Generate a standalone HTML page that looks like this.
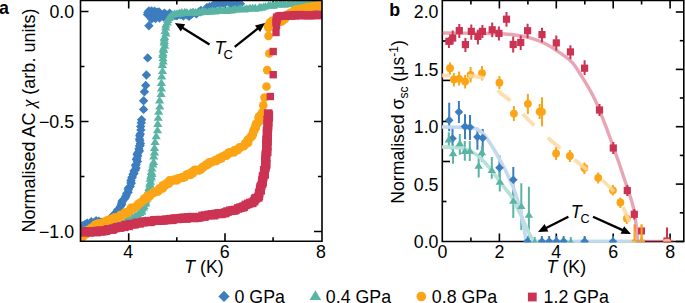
<!DOCTYPE html><html><head><meta charset="utf-8"><style>html,body{margin:0;padding:0;background:#fff;overflow:hidden}svg{display:block}</style></head><body><svg width="685" height="303" viewBox="0 0 685 303"><defs><clipPath id="ca"><rect x="80.5" y="0" width="241.5" height="241"/></clipPath><clipPath id="cb"><rect x="442" y="0" width="241.5" height="242.6"/></clipPath></defs><g stroke="#000" stroke-width="1.6" fill="none"><path d="M128.7 241.3V233.3M128.7 0.4V8.4"/><path d="M176.8 241.3V237.3M176.8 0.4V4.4"/><path d="M225.0 241.3V233.3M225.0 0.4V8.4"/><path d="M273.1 241.3V237.3M273.1 0.4V4.4"/><path d="M80.5 11.5H88.5M322 11.5H314"/><path d="M80.5 66.5H84.5M322 66.5H318"/><path d="M80.5 121.5H88.5M322 121.5H314"/><path d="M80.5 176.5H84.5M322 176.5H318"/><path d="M80.5 231.5H88.5M322 231.5H314"/></g><g clip-path="url(#ca)"><path d="M77.7 222.7L82.4 227.4L77.7 232.1L73.0 227.4Z" fill="#3c7dbf"/><path d="M80.3 221.7L85.0 226.4L80.3 231.1L75.6 226.4Z" fill="#3c7dbf"/><path d="M82.1 221.4L86.8 226.1L82.1 230.8L77.4 226.1Z" fill="#3c7dbf"/><path d="M83.2 220.8L87.9 225.5L83.2 230.2L78.5 225.5Z" fill="#3c7dbf"/><path d="M85.2 219.8L89.9 224.5L85.2 229.2L80.5 224.5Z" fill="#3c7dbf"/><path d="M87.2 218.4L91.9 223.1L87.2 227.8L82.5 223.1Z" fill="#3c7dbf"/><path d="M89.9 218.9L94.6 223.6L89.9 228.3L85.2 223.6Z" fill="#3c7dbf"/><path d="M91.3 217.1L96.0 221.8L91.3 226.5L86.6 221.8Z" fill="#3c7dbf"/><path d="M94.2 217.8L98.9 222.5L94.2 227.2L89.5 222.5Z" fill="#3c7dbf"/><path d="M96.1 216.1L100.8 220.8L96.1 225.5L91.4 220.8Z" fill="#3c7dbf"/><path d="M98.9 216.5L103.6 221.2L98.9 225.9L94.2 221.2Z" fill="#3c7dbf"/><path d="M100.6 217.9L105.3 222.6L100.6 227.3L95.9 222.6Z" fill="#3c7dbf"/><path d="M101.9 217.6L106.6 222.3L101.9 227.0L97.2 222.3Z" fill="#3c7dbf"/><path d="M104.7 218.9L109.4 223.6L104.7 228.3L100.0 223.6Z" fill="#3c7dbf"/><path d="M106.4 217.4L111.1 222.1L106.4 226.8L101.7 222.1Z" fill="#3c7dbf"/><path d="M109.3 216.1L114.0 220.8L109.3 225.5L104.6 220.8Z" fill="#3c7dbf"/><path d="M110.4 214.0L115.1 218.7L110.4 223.4L105.7 218.7Z" fill="#3c7dbf"/><path d="M110.9 212.8L115.6 217.5L110.9 222.2L106.2 217.5Z" fill="#3c7dbf"/><path d="M113.3 211.7L118.0 216.4L113.3 221.1L108.6 216.4Z" fill="#3c7dbf"/><path d="M114.0 210.3L118.7 215.0L114.0 219.7L109.3 215.0Z" fill="#3c7dbf"/><path d="M115.6 208.1L120.3 212.8L115.6 217.5L110.9 212.8Z" fill="#3c7dbf"/><path d="M117.5 207.2L122.2 211.9L117.5 216.6L112.8 211.9Z" fill="#3c7dbf"/><path d="M117.5 205.4L122.2 210.1L117.5 214.8L112.8 210.1Z" fill="#3c7dbf"/><path d="M119.0 204.5L123.7 209.2L119.0 213.9L114.3 209.2Z" fill="#3c7dbf"/><path d="M120.4 201.9L125.1 206.6L120.4 211.3L115.7 206.6Z" fill="#3c7dbf"/><path d="M121.7 199.9L126.4 204.6L121.7 209.3L117.0 204.6Z" fill="#3c7dbf"/><path d="M121.5 199.4L126.2 204.1L121.5 208.8L116.8 204.1Z" fill="#3c7dbf"/><path d="M121.9 197.3L126.6 202.0L121.9 206.7L117.2 202.0Z" fill="#3c7dbf"/><path d="M122.5 195.9L127.2 200.6L122.5 205.3L117.8 200.6Z" fill="#3c7dbf"/><path d="M124.6 194.1L129.3 198.8L124.6 203.5L119.9 198.8Z" fill="#3c7dbf"/><path d="M125.7 192.0L130.4 196.7L125.7 201.4L121.0 196.7Z" fill="#3c7dbf"/><path d="M126.2 190.6L130.9 195.3L126.2 200.0L121.5 195.3Z" fill="#3c7dbf"/><path d="M126.8 188.6L131.5 193.3L126.8 198.0L122.1 193.3Z" fill="#3c7dbf"/><path d="M128.1 187.6L132.8 192.3L128.1 197.0L123.4 192.3Z" fill="#3c7dbf"/><path d="M128.3 185.1L133.0 189.8L128.3 194.5L123.6 189.8Z" fill="#3c7dbf"/><path d="M128.4 183.2L133.1 187.9L128.4 192.6L123.7 187.9Z" fill="#3c7dbf"/><path d="M130.3 181.7L135.0 186.4L130.3 191.1L125.6 186.4Z" fill="#3c7dbf"/><path d="M131.2 178.7L135.9 183.4L131.2 188.1L126.5 183.4Z" fill="#3c7dbf"/><path d="M131.0 177.6L135.7 182.3L131.0 187.0L126.3 182.3Z" fill="#3c7dbf"/><path d="M131.0 175.5L135.7 180.2L131.0 184.9L126.3 180.2Z" fill="#3c7dbf"/><path d="M131.9 173.1L136.6 177.8L131.9 182.5L127.2 177.8Z" fill="#3c7dbf"/><path d="M132.3 172.4L137.0 177.1L132.3 181.8L127.6 177.1Z" fill="#3c7dbf"/><path d="M133.0 169.6L137.7 174.3L133.0 179.0L128.3 174.3Z" fill="#3c7dbf"/><path d="M134.0 168.8L138.7 173.5L134.0 178.2L129.3 173.5Z" fill="#3c7dbf"/><path d="M134.0 166.2L138.7 170.9L134.0 175.6L129.3 170.9Z" fill="#3c7dbf"/><path d="M135.3 165.2L140.0 169.9L135.3 174.6L130.6 169.9Z" fill="#3c7dbf"/><path d="M136.1 163.4L140.8 168.1L136.1 172.8L131.4 168.1Z" fill="#3c7dbf"/><path d="M135.5 160.7L140.2 165.4L135.5 170.1L130.8 165.4Z" fill="#3c7dbf"/><path d="M136.1 159.8L140.8 164.5L136.1 169.2L131.4 164.5Z" fill="#3c7dbf"/><path d="M137.5 156.7L142.2 161.4L137.5 166.1L132.8 161.4Z" fill="#3c7dbf"/><path d="M136.4 154.9L141.1 159.6L136.4 164.3L131.7 159.6Z" fill="#3c7dbf"/><path d="M136.9 153.5L141.6 158.2L136.9 162.9L132.2 158.2Z" fill="#3c7dbf"/><path d="M137.8 151.2L142.5 155.9L137.8 160.6L133.1 155.9Z" fill="#3c7dbf"/><path d="M137.1 149.6L141.8 154.3L137.1 159.0L132.4 154.3Z" fill="#3c7dbf"/><path d="M138.1 147.9L142.8 152.6L138.1 157.3L133.4 152.6Z" fill="#3c7dbf"/><path d="M139.4 146.2L144.1 150.9L139.4 155.6L134.7 150.9Z" fill="#3c7dbf"/><path d="M138.9 144.2L143.6 148.9L138.9 153.6L134.2 148.9Z" fill="#3c7dbf"/><path d="M139.5 141.3L144.2 146.0L139.5 150.7L134.8 146.0Z" fill="#3c7dbf"/><path d="M140.1 140.7L144.8 145.4L140.1 150.1L135.4 145.4Z" fill="#3c7dbf"/><path d="M140.4 138.8L145.1 143.5L140.4 148.2L135.7 143.5Z" fill="#3c7dbf"/><path d="M139.8 136.0L144.5 140.7L139.8 145.4L135.1 140.7Z" fill="#3c7dbf"/><path d="M139.5 134.3L144.2 139.0L139.5 143.7L134.8 139.0Z" fill="#3c7dbf"/><path d="M139.7 131.1L144.4 135.8L139.7 140.5L135.0 135.8Z" fill="#3c7dbf"/><path d="M140.3 129.2L145.0 133.9L140.3 138.6L135.6 133.9Z" fill="#3c7dbf"/><path d="M140.9 125.2L145.6 129.9L140.9 134.6L136.2 129.9Z" fill="#3c7dbf"/><path d="M140.7 121.7L145.4 126.4L140.7 131.1L136.0 126.4Z" fill="#3c7dbf"/><path d="M141.3 118.1L146.0 122.8L141.3 127.5L136.6 122.8Z" fill="#3c7dbf"/><path d="M141.6 115.0L146.3 119.7L141.6 124.4L136.9 119.7Z" fill="#3c7dbf"/><path d="M143.6 104.7L148.3 109.4L143.6 114.1L138.9 109.4Z" fill="#3c7dbf"/><path d="M143.6 96.0L148.3 100.7L143.6 105.4L138.9 100.7Z" fill="#3c7dbf"/><path d="M144.4 87.1L149.1 91.8L144.4 96.5L139.7 91.8Z" fill="#3c7dbf"/><path d="M145.7 80.7L150.4 85.4L145.7 90.1L141.0 85.4Z" fill="#3c7dbf"/><path d="M146.4 70.3L151.1 75.0L146.4 79.7L141.7 75.0Z" fill="#3c7dbf"/><path d="M147.7 53.2L152.4 57.9L147.7 62.6L143.0 57.9Z" fill="#3c7dbf"/><path d="M148.9 21.0L153.6 25.7L148.9 30.4L144.2 25.7Z" fill="#3c7dbf"/><path d="M147.9 7.8L152.6 12.5L147.9 17.2L143.2 12.5Z" fill="#3c7dbf"/><path d="M148.9 6.3L153.6 11.0L148.9 15.7L144.2 11.0Z" fill="#3c7dbf"/><path d="M151.6 6.2L156.3 10.9L151.6 15.6L146.9 10.9Z" fill="#3c7dbf"/><path d="M154.5 6.4L159.2 11.1L154.5 15.8L149.8 11.1Z" fill="#3c7dbf"/><path d="M154.1 9.0L158.8 13.7L154.1 18.4L149.4 13.7Z" fill="#3c7dbf"/><path d="M157.1 7.4L161.8 12.1L157.1 16.8L152.4 12.1Z" fill="#3c7dbf"/><path d="M159.1 7.3L163.8 12.0L159.1 16.7L154.4 12.0Z" fill="#3c7dbf"/><path d="M161.1 10.0L165.8 14.7L161.1 19.4L156.4 14.7Z" fill="#3c7dbf"/><path d="M163.9 9.3L168.6 14.0L163.9 18.7L159.2 14.0Z" fill="#3c7dbf"/><path d="M164.4 8.5L169.1 13.2L164.4 17.9L159.7 13.2Z" fill="#3c7dbf"/><path d="M165.8 9.7L170.5 14.4L165.8 19.1L161.1 14.4Z" fill="#3c7dbf"/><path d="M168.4 9.9L173.1 14.6L168.4 19.3L163.7 14.6Z" fill="#3c7dbf"/><path d="M169.6 8.6L174.3 13.3L169.6 18.0L164.9 13.3Z" fill="#3c7dbf"/><path d="M172.8 10.9L177.5 15.6L172.8 20.3L168.1 15.6Z" fill="#3c7dbf"/><path d="M174.9 10.8L179.6 15.5L174.9 20.2L170.2 15.5Z" fill="#3c7dbf"/><path d="M176.8 10.9L181.5 15.6L176.8 20.3L172.1 15.6Z" fill="#3c7dbf"/><path d="M177.3 10.5L182.0 15.2L177.3 19.9L172.6 15.2Z" fill="#3c7dbf"/><path d="M179.6 9.3L184.3 14.0L179.6 18.7L174.9 14.0Z" fill="#3c7dbf"/><path d="M180.8 10.1L185.5 14.8L180.8 19.5L176.1 14.8Z" fill="#3c7dbf"/><path d="M183.4 11.3L188.1 16.0L183.4 20.7L178.7 16.0Z" fill="#3c7dbf"/><path d="M187.2 10.4L191.9 15.1L187.2 19.8L182.5 15.1Z" fill="#3c7dbf"/><path d="M189.1 11.6L193.8 16.3L189.1 21.0L184.4 16.3Z" fill="#3c7dbf"/><path d="M191.2 9.7L195.9 14.4L191.2 19.1L186.5 14.4Z" fill="#3c7dbf"/><path d="M191.3 9.1L196.0 13.8L191.3 18.5L186.6 13.8Z" fill="#3c7dbf"/><path d="M193.2 8.2L197.9 12.9L193.2 17.6L188.5 12.9Z" fill="#3c7dbf"/><path d="M196.3 9.2L201.0 13.9L196.3 18.6L191.6 13.9Z" fill="#3c7dbf"/><path d="M198.9 7.2L203.6 11.9L198.9 16.6L194.2 11.9Z" fill="#3c7dbf"/><path d="M200.4 7.1L205.1 11.8L200.4 16.5L195.7 11.8Z" fill="#3c7dbf"/><path d="M200.9 5.7L205.6 10.4L200.9 15.1L196.2 10.4Z" fill="#3c7dbf"/><path d="M205.1 5.0L209.8 9.7L205.1 14.4L200.4 9.7Z" fill="#3c7dbf"/><path d="M206.7 3.2L211.4 7.9L206.7 12.6L202.0 7.9Z" fill="#3c7dbf"/><path d="M207.2 3.1L211.9 7.8L207.2 12.5L202.5 7.8Z" fill="#3c7dbf"/><path d="M209.6 2.1L214.3 6.8L209.6 11.5L204.9 6.8Z" fill="#3c7dbf"/><path d="M213.2 0.4L217.9 5.1L213.2 9.8L208.5 5.1Z" fill="#3c7dbf"/><path d="M213.7 1.1L218.4 5.8L213.7 10.5L209.0 5.8Z" fill="#3c7dbf"/><path d="M216.6 -1.6L221.3 3.1L216.6 7.8L211.9 3.1Z" fill="#3c7dbf"/><path d="M216.8 -1.8L221.5 2.9L216.8 7.6L212.1 2.9Z" fill="#3c7dbf"/><path d="M220.7 -0.3L225.4 4.4L220.7 9.1L216.0 4.4Z" fill="#3c7dbf"/><path d="M220.5 -0.5L225.2 4.2L220.5 8.9L215.8 4.2Z" fill="#3c7dbf"/><path d="M224.4 -1.1L229.1 3.6L224.4 8.3L219.7 3.6Z" fill="#3c7dbf"/><path d="M224.6 -1.6L229.3 3.1L224.6 7.8L219.9 3.1Z" fill="#3c7dbf"/><path d="M226.0 -3.0L230.7 1.7L226.0 6.4L221.3 1.7Z" fill="#3c7dbf"/><path d="M230.2 -1.3L234.9 3.4L230.2 8.1L225.5 3.4Z" fill="#3c7dbf"/><path d="M231.1 -0.6L235.8 4.1L231.1 8.8L226.4 4.1Z" fill="#3c7dbf"/><path d="M232.8 -0.7L237.5 4.0L232.8 8.7L228.1 4.0Z" fill="#3c7dbf"/><path d="M235.8 -2.5L240.5 2.2L235.8 6.9L231.1 2.2Z" fill="#3c7dbf"/><path d="M236.4 -1.9L241.1 2.8L236.4 7.5L231.7 2.8Z" fill="#3c7dbf"/><path d="M238.3 -0.8L243.0 3.9L238.3 8.6L233.6 3.9Z" fill="#3c7dbf"/><path d="M240.4 -0.9L245.1 3.8L240.4 8.5L235.7 3.8Z" fill="#3c7dbf"/><path d="M151.5 14.3L156.2 19.0L151.5 23.7L146.8 19.0Z" fill="#3c7dbf"/><path d="M155.5 13.8L160.2 18.5L155.5 23.2L150.8 18.5Z" fill="#3c7dbf"/><path d="M159.5 13.3L164.2 18.0L159.5 22.7L154.8 18.0Z" fill="#3c7dbf"/><path d="M163.5 12.3L168.2 17.0L163.5 21.7L158.8 17.0Z" fill="#3c7dbf"/><path d="M147.5 9.8L152.2 14.5L147.5 19.2L142.8 14.5Z" fill="#3c7dbf"/><path d="M77.5 226.7L82.1 234.0L72.9 234.0Z" fill="#5ab4a4"/><path d="M79.8 225.8L84.4 233.2L75.2 233.2Z" fill="#5ab4a4"/><path d="M82.1 226.3L86.7 233.7L77.5 233.7Z" fill="#5ab4a4"/><path d="M83.9 226.1L88.5 233.5L79.3 233.5Z" fill="#5ab4a4"/><path d="M86.0 225.4L90.6 232.8L81.4 232.8Z" fill="#5ab4a4"/><path d="M88.0 224.5L92.6 231.9L83.4 231.9Z" fill="#5ab4a4"/><path d="M89.9 224.6L94.5 231.9L85.3 231.9Z" fill="#5ab4a4"/><path d="M91.3 225.2L95.9 232.6L86.7 232.6Z" fill="#5ab4a4"/><path d="M93.5 224.6L98.1 232.0L88.9 232.0Z" fill="#5ab4a4"/><path d="M96.3 224.5L100.9 231.9L91.7 231.9Z" fill="#5ab4a4"/><path d="M97.8 224.3L102.4 231.7L93.2 231.7Z" fill="#5ab4a4"/><path d="M100.1 224.5L104.7 231.8L95.5 231.8Z" fill="#5ab4a4"/><path d="M101.3 223.8L105.9 231.2L96.7 231.2Z" fill="#5ab4a4"/><path d="M103.4 223.0L108.0 230.4L98.8 230.4Z" fill="#5ab4a4"/><path d="M106.0 223.0L110.6 230.3L101.4 230.3Z" fill="#5ab4a4"/><path d="M107.6 223.0L112.2 230.3L103.0 230.3Z" fill="#5ab4a4"/><path d="M110.0 222.1L114.6 229.5L105.4 229.5Z" fill="#5ab4a4"/><path d="M111.4 221.8L116.0 229.2L106.8 229.2Z" fill="#5ab4a4"/><path d="M113.1 221.7L117.7 229.1L108.5 229.1Z" fill="#5ab4a4"/><path d="M114.9 221.1L119.5 228.5L110.3 228.5Z" fill="#5ab4a4"/><path d="M117.0 221.0L121.6 228.4L112.4 228.4Z" fill="#5ab4a4"/><path d="M119.3 220.2L123.9 227.6L114.7 227.6Z" fill="#5ab4a4"/><path d="M121.6 218.7L126.2 226.0L117.0 226.0Z" fill="#5ab4a4"/><path d="M123.1 218.9L127.7 226.3L118.5 226.3Z" fill="#5ab4a4"/><path d="M125.5 217.1L130.1 224.4L120.9 224.4Z" fill="#5ab4a4"/><path d="M126.1 216.6L130.7 224.0L121.5 224.0Z" fill="#5ab4a4"/><path d="M127.6 215.4L132.2 222.8L123.0 222.8Z" fill="#5ab4a4"/><path d="M129.2 215.1L133.8 222.5L124.6 222.5Z" fill="#5ab4a4"/><path d="M131.8 214.5L136.4 221.9L127.2 221.9Z" fill="#5ab4a4"/><path d="M132.5 213.4L137.1 220.8L127.9 220.8Z" fill="#5ab4a4"/><path d="M135.0 211.5L139.6 218.8L130.4 218.8Z" fill="#5ab4a4"/><path d="M137.0 211.5L141.6 218.9L132.4 218.9Z" fill="#5ab4a4"/><path d="M137.9 210.3L142.5 217.7L133.3 217.7Z" fill="#5ab4a4"/><path d="M139.9 208.6L144.5 215.9L135.3 215.9Z" fill="#5ab4a4"/><path d="M141.8 207.4L146.4 214.8L137.2 214.8Z" fill="#5ab4a4"/><path d="M141.8 205.2L146.4 212.6L137.2 212.6Z" fill="#5ab4a4"/><path d="M143.4 203.5L148.0 210.8L138.8 210.8Z" fill="#5ab4a4"/><path d="M144.1 201.8L148.7 209.2L139.5 209.2Z" fill="#5ab4a4"/><path d="M145.4 199.4L150.0 206.8L140.8 206.8Z" fill="#5ab4a4"/><path d="M145.8 198.0L150.4 205.4L141.2 205.4Z" fill="#5ab4a4"/><path d="M145.7 195.9L150.3 203.2L141.1 203.2Z" fill="#5ab4a4"/><path d="M147.2 194.1L151.8 201.5L142.6 201.5Z" fill="#5ab4a4"/><path d="M146.9 192.8L151.5 200.1L142.3 200.1Z" fill="#5ab4a4"/><path d="M148.4 190.8L153.0 198.1L143.8 198.1Z" fill="#5ab4a4"/><path d="M147.9 187.8L152.5 195.1L143.3 195.1Z" fill="#5ab4a4"/><path d="M148.4 186.5L153.0 193.8L143.8 193.8Z" fill="#5ab4a4"/><path d="M149.0 183.8L153.6 191.1L144.4 191.1Z" fill="#5ab4a4"/><path d="M149.5 183.1L154.1 190.4L144.9 190.4Z" fill="#5ab4a4"/><path d="M150.3 180.4L154.9 187.7L145.7 187.7Z" fill="#5ab4a4"/><path d="M149.7 179.5L154.3 186.8L145.1 186.8Z" fill="#5ab4a4"/><path d="M150.6 177.4L155.2 184.7L146.0 184.7Z" fill="#5ab4a4"/><path d="M150.2 174.5L154.8 181.8L145.6 181.8Z" fill="#5ab4a4"/><path d="M151.4 173.0L156.0 180.3L146.8 180.3Z" fill="#5ab4a4"/><path d="M150.8 171.7L155.4 179.1L146.2 179.1Z" fill="#5ab4a4"/><path d="M151.9 169.5L156.5 176.9L147.3 176.9Z" fill="#5ab4a4"/><path d="M151.4 167.6L156.0 174.9L146.8 174.9Z" fill="#5ab4a4"/><path d="M151.9 164.3L156.5 171.6L147.3 171.6Z" fill="#5ab4a4"/><path d="M152.9 160.2L157.5 167.6L148.3 167.6Z" fill="#5ab4a4"/><path d="M153.6 157.7L158.2 165.0L149.0 165.0Z" fill="#5ab4a4"/><path d="M153.7 152.2L158.3 159.6L149.1 159.6Z" fill="#5ab4a4"/><path d="M154.5 148.1L159.1 155.4L149.9 155.4Z" fill="#5ab4a4"/><path d="M154.5 143.6L159.1 151.0L149.9 151.0Z" fill="#5ab4a4"/><path d="M155.1 137.7L159.7 145.0L150.5 145.0Z" fill="#5ab4a4"/><path d="M156.2 131.8L160.8 139.2L151.6 139.2Z" fill="#5ab4a4"/><path d="M157.5 125.8L162.1 133.2L152.9 133.2Z" fill="#5ab4a4"/><path d="M157.8 119.6L162.4 127.0L153.2 127.0Z" fill="#5ab4a4"/><path d="M158.2 113.4L162.8 120.8L153.6 120.8Z" fill="#5ab4a4"/><path d="M158.7 107.4L163.3 114.8L154.1 114.8Z" fill="#5ab4a4"/><path d="M159.8 102.2L164.4 109.5L155.2 109.5Z" fill="#5ab4a4"/><path d="M159.6 96.1L164.2 103.4L155.0 103.4Z" fill="#5ab4a4"/><path d="M161.1 89.5L165.7 96.9L156.5 96.9Z" fill="#5ab4a4"/><path d="M161.4 84.0L166.0 91.4L156.8 91.4Z" fill="#5ab4a4"/><path d="M161.4 78.6L166.0 85.9L156.8 85.9Z" fill="#5ab4a4"/><path d="M161.7 72.1L166.3 79.5L157.1 79.5Z" fill="#5ab4a4"/><path d="M162.5 66.8L167.1 74.1L157.9 74.1Z" fill="#5ab4a4"/><path d="M162.4 60.6L167.0 67.9L157.8 67.9Z" fill="#5ab4a4"/><path d="M163.2 57.3L167.8 64.6L158.6 64.6Z" fill="#5ab4a4"/><path d="M163.0 53.9L167.6 61.2L158.4 61.2Z" fill="#5ab4a4"/><path d="M162.8 50.6L167.4 57.9L158.2 57.9Z" fill="#5ab4a4"/><path d="M163.0 48.9L167.6 56.3L158.4 56.3Z" fill="#5ab4a4"/><path d="M163.5 45.6L168.1 53.0L158.9 53.0Z" fill="#5ab4a4"/><path d="M163.4 44.1L168.0 51.4L158.8 51.4Z" fill="#5ab4a4"/><path d="M164.7 41.3L169.3 48.7L160.1 48.7Z" fill="#5ab4a4"/><path d="M164.1 38.5L168.7 45.8L159.5 45.8Z" fill="#5ab4a4"/><path d="M164.3 36.5L168.9 43.9L159.7 43.9Z" fill="#5ab4a4"/><path d="M164.2 34.3L168.8 41.6L159.6 41.6Z" fill="#5ab4a4"/><path d="M164.6 32.7L169.2 40.1L160.0 40.1Z" fill="#5ab4a4"/><path d="M165.9 29.2L170.5 36.5L161.3 36.5Z" fill="#5ab4a4"/><path d="M165.1 26.7L169.7 34.1L160.5 34.1Z" fill="#5ab4a4"/><path d="M165.7 23.1L170.3 30.5L161.1 30.5Z" fill="#5ab4a4"/><path d="M165.8 20.4L170.4 27.8L161.2 27.8Z" fill="#5ab4a4"/><path d="M167.4 18.1L172.0 25.5L162.8 25.5Z" fill="#5ab4a4"/><path d="M167.9 15.6L172.5 23.0L163.3 23.0Z" fill="#5ab4a4"/><path d="M169.0 13.5L173.6 20.9L164.4 20.9Z" fill="#5ab4a4"/><path d="M170.4 11.9L175.0 19.3L165.8 19.3Z" fill="#5ab4a4"/><path d="M172.4 10.2L177.0 17.5L167.8 17.5Z" fill="#5ab4a4"/><path d="M174.7 9.2L179.3 16.6L170.1 16.6Z" fill="#5ab4a4"/><path d="M176.9 9.3L181.5 16.7L172.3 16.7Z" fill="#5ab4a4"/><path d="M178.9 9.2L183.5 16.6L174.3 16.6Z" fill="#5ab4a4"/><path d="M180.6 9.2L185.2 16.6L176.0 16.6Z" fill="#5ab4a4"/><path d="M181.8 8.1L186.4 15.5L177.2 15.5Z" fill="#5ab4a4"/><path d="M184.7 7.8L189.3 15.1L180.1 15.1Z" fill="#5ab4a4"/><path d="M186.3 8.3L190.9 15.7L181.7 15.7Z" fill="#5ab4a4"/><path d="M187.4 8.5L192.0 15.8L182.8 15.8Z" fill="#5ab4a4"/><path d="M190.5 8.1L195.1 15.4L185.9 15.4Z" fill="#5ab4a4"/><path d="M192.2 8.3L196.8 15.6L187.6 15.6Z" fill="#5ab4a4"/><path d="M193.2 7.8L197.8 15.1L188.6 15.1Z" fill="#5ab4a4"/><path d="M195.6 8.1L200.2 15.5L191.0 15.5Z" fill="#5ab4a4"/><path d="M197.9 8.0L202.5 15.4L193.3 15.4Z" fill="#5ab4a4"/><path d="M199.5 8.1L204.1 15.4L194.9 15.4Z" fill="#5ab4a4"/><path d="M201.5 7.7L206.1 15.1L196.9 15.1Z" fill="#5ab4a4"/><path d="M202.7 6.7L207.3 14.1L198.1 14.1Z" fill="#5ab4a4"/><path d="M204.5 7.1L209.1 14.5L199.9 14.5Z" fill="#5ab4a4"/><path d="M206.3 7.7L210.9 15.0L201.7 15.0Z" fill="#5ab4a4"/><path d="M208.8 7.3L213.4 14.6L204.2 14.6Z" fill="#5ab4a4"/><path d="M210.8 7.2L215.4 14.6L206.2 14.6Z" fill="#5ab4a4"/><path d="M212.5 6.2L217.1 13.6L207.9 13.6Z" fill="#5ab4a4"/><path d="M214.8 7.1L219.4 14.5L210.2 14.5Z" fill="#5ab4a4"/><path d="M216.3 6.7L220.9 14.1L211.7 14.1Z" fill="#5ab4a4"/><path d="M218.3 6.0L222.9 13.3L213.7 13.3Z" fill="#5ab4a4"/><path d="M220.3 6.1L224.9 13.5L215.7 13.5Z" fill="#5ab4a4"/><path d="M221.4 6.0L226.0 13.4L216.8 13.4Z" fill="#5ab4a4"/><path d="M224.3 5.8L228.9 13.2L219.7 13.2Z" fill="#5ab4a4"/><path d="M226.3 6.7L230.9 14.1L221.7 14.1Z" fill="#5ab4a4"/><path d="M228.0 5.8L232.6 13.1L223.4 13.1Z" fill="#5ab4a4"/><path d="M230.0 6.0L234.6 13.4L225.4 13.4Z" fill="#5ab4a4"/><path d="M232.4 5.8L237.0 13.2L227.8 13.2Z" fill="#5ab4a4"/><path d="M234.2 4.9L238.8 12.3L229.6 12.3Z" fill="#5ab4a4"/><path d="M235.5 5.0L240.1 12.4L230.9 12.4Z" fill="#5ab4a4"/><path d="M238.3 5.0L242.9 12.3L233.7 12.3Z" fill="#5ab4a4"/><path d="M240.1 4.4L244.7 11.8L235.5 11.8Z" fill="#5ab4a4"/><path d="M241.4 4.6L246.0 12.0L236.8 12.0Z" fill="#5ab4a4"/><path d="M244.2 5.0L248.8 12.4L239.6 12.4Z" fill="#5ab4a4"/><path d="M246.2 4.3L250.8 11.7L241.6 11.7Z" fill="#5ab4a4"/><path d="M248.0 4.4L252.6 11.8L243.4 11.8Z" fill="#5ab4a4"/><path d="M250.0 3.8L254.6 11.1L245.4 11.1Z" fill="#5ab4a4"/><path d="M252.6 3.6L257.2 11.0L248.0 11.0Z" fill="#5ab4a4"/><path d="M254.7 4.4L259.3 11.8L250.1 11.8Z" fill="#5ab4a4"/><path d="M255.3 3.5L259.9 10.9L250.7 10.9Z" fill="#5ab4a4"/><path d="M258.4 4.0L263.0 11.3L253.8 11.3Z" fill="#5ab4a4"/><path d="M259.9 2.8L264.5 10.1L255.3 10.1Z" fill="#5ab4a4"/><path d="M261.6 3.3L266.2 10.7L257.0 10.7Z" fill="#5ab4a4"/><path d="M263.6 2.4L268.2 9.8L259.0 9.8Z" fill="#5ab4a4"/><path d="M265.5 1.9L270.1 9.3L260.9 9.3Z" fill="#5ab4a4"/><path d="M268.6 1.0L273.2 8.3L264.0 8.3Z" fill="#5ab4a4"/><path d="M270.4 1.1L275.0 8.5L265.8 8.5Z" fill="#5ab4a4"/><path d="M272.5 1.2L277.1 8.5L267.9 8.5Z" fill="#5ab4a4"/><path d="M273.6 1.2L278.2 8.6L269.0 8.6Z" fill="#5ab4a4"/><path d="M276.0 -0.2L280.6 7.2L271.4 7.2Z" fill="#5ab4a4"/><path d="M277.3 0.3L281.9 7.6L272.7 7.6Z" fill="#5ab4a4"/><path d="M279.9 -0.2L284.5 7.2L275.3 7.2Z" fill="#5ab4a4"/><path d="M281.5 -0.3L286.1 7.1L276.9 7.1Z" fill="#5ab4a4"/><path d="M283.7 0.3L288.3 7.6L279.1 7.6Z" fill="#5ab4a4"/><path d="M285.3 -0.0L289.9 7.4L280.7 7.4Z" fill="#5ab4a4"/><path d="M288.5 -1.0L293.1 6.3L283.9 6.3Z" fill="#5ab4a4"/><path d="M290.6 -0.4L295.2 7.0L286.0 7.0Z" fill="#5ab4a4"/><path d="M292.6 -1.1L297.2 6.3L288.0 6.3Z" fill="#5ab4a4"/><path d="M293.8 -1.1L298.4 6.3L289.2 6.3Z" fill="#5ab4a4"/><path d="M296.7 -1.0L301.3 6.4L292.1 6.4Z" fill="#5ab4a4"/><path d="M297.8 -1.4L302.4 6.0L293.2 6.0Z" fill="#5ab4a4"/><path d="M299.7 -2.0L304.3 5.3L295.1 5.3Z" fill="#5ab4a4"/><path d="M301.4 -1.1L306.0 6.3L296.8 6.3Z" fill="#5ab4a4"/><path d="M303.7 -1.1L308.3 6.3L299.1 6.3Z" fill="#5ab4a4"/><path d="M305.6 -2.1L310.2 5.2L301.0 5.2Z" fill="#5ab4a4"/><path d="M308.0 -2.4L312.6 5.0L303.4 5.0Z" fill="#5ab4a4"/><path d="M309.8 -1.5L314.4 5.9L305.2 5.9Z" fill="#5ab4a4"/><path d="M312.5 -1.8L317.1 5.6L307.9 5.6Z" fill="#5ab4a4"/><path d="M314.2 -1.8L318.8 5.6L309.6 5.6Z" fill="#5ab4a4"/><path d="M316.6 -2.4L321.2 4.9L312.0 4.9Z" fill="#5ab4a4"/><path d="M318.3 -3.3L322.9 4.1L313.7 4.1Z" fill="#5ab4a4"/><path d="M320.3 -2.8L324.9 4.5L315.7 4.5Z" fill="#5ab4a4"/><path d="M322.4 -2.7L327.0 4.7L317.8 4.7Z" fill="#5ab4a4"/><circle cx="77.6" cy="239.1" r="4.5" fill="#fba516"/><circle cx="80.9" cy="238.0" r="4.5" fill="#fba516"/><circle cx="81.9" cy="237.2" r="4.5" fill="#fba516"/><circle cx="82.9" cy="236.6" r="4.5" fill="#fba516"/><circle cx="85.6" cy="234.4" r="4.5" fill="#fba516"/><circle cx="86.3" cy="233.1" r="4.5" fill="#fba516"/><circle cx="87.4" cy="232.0" r="4.5" fill="#fba516"/><circle cx="88.0" cy="230.2" r="4.5" fill="#fba516"/><circle cx="89.4" cy="230.3" r="4.5" fill="#fba516"/><circle cx="91.7" cy="227.8" r="4.5" fill="#fba516"/><circle cx="94.1" cy="228.2" r="4.5" fill="#fba516"/><circle cx="94.9" cy="225.3" r="4.5" fill="#fba516"/><circle cx="96.1" cy="224.5" r="4.5" fill="#fba516"/><circle cx="98.0" cy="223.8" r="4.5" fill="#fba516"/><circle cx="99.5" cy="223.5" r="4.5" fill="#fba516"/><circle cx="101.8" cy="224.1" r="4.5" fill="#fba516"/><circle cx="103.8" cy="222.5" r="4.5" fill="#fba516"/><circle cx="104.8" cy="222.0" r="4.5" fill="#fba516"/><circle cx="106.4" cy="221.0" r="4.5" fill="#fba516"/><circle cx="107.5" cy="220.2" r="4.5" fill="#fba516"/><circle cx="110.9" cy="219.3" r="4.5" fill="#fba516"/><circle cx="111.7" cy="219.7" r="4.5" fill="#fba516"/><circle cx="114.1" cy="218.2" r="4.5" fill="#fba516"/><circle cx="114.5" cy="217.7" r="4.5" fill="#fba516"/><circle cx="116.5" cy="217.4" r="4.5" fill="#fba516"/><circle cx="119.2" cy="217.4" r="4.5" fill="#fba516"/><circle cx="120.7" cy="215.0" r="4.5" fill="#fba516"/><circle cx="120.7" cy="215.6" r="4.5" fill="#fba516"/><circle cx="124.1" cy="214.3" r="4.5" fill="#fba516"/><circle cx="125.2" cy="212.5" r="4.5" fill="#fba516"/><circle cx="126.4" cy="213.2" r="4.5" fill="#fba516"/><circle cx="129.0" cy="211.9" r="4.5" fill="#fba516"/><circle cx="130.9" cy="209.5" r="4.5" fill="#fba516"/><circle cx="130.9" cy="208.1" r="4.5" fill="#fba516"/><circle cx="133.4" cy="208.0" r="4.5" fill="#fba516"/><circle cx="135.9" cy="206.9" r="4.5" fill="#fba516"/><circle cx="137.0" cy="205.9" r="4.5" fill="#fba516"/><circle cx="138.2" cy="204.3" r="4.5" fill="#fba516"/><circle cx="139.1" cy="203.6" r="4.5" fill="#fba516"/><circle cx="141.1" cy="202.6" r="4.5" fill="#fba516"/><circle cx="143.6" cy="200.1" r="4.5" fill="#fba516"/><circle cx="144.3" cy="198.8" r="4.5" fill="#fba516"/><circle cx="146.9" cy="198.4" r="4.5" fill="#fba516"/><circle cx="147.6" cy="195.9" r="4.5" fill="#fba516"/><circle cx="150.0" cy="195.7" r="4.5" fill="#fba516"/><circle cx="151.4" cy="193.9" r="4.5" fill="#fba516"/><circle cx="153.5" cy="192.4" r="4.5" fill="#fba516"/><circle cx="154.6" cy="192.2" r="4.5" fill="#fba516"/><circle cx="157.6" cy="191.5" r="4.5" fill="#fba516"/><circle cx="159.1" cy="190.0" r="4.5" fill="#fba516"/><circle cx="159.5" cy="188.5" r="4.5" fill="#fba516"/><circle cx="162.6" cy="188.2" r="4.5" fill="#fba516"/><circle cx="162.9" cy="185.5" r="4.5" fill="#fba516"/><circle cx="165.0" cy="185.6" r="4.5" fill="#fba516"/><circle cx="166.5" cy="183.5" r="4.5" fill="#fba516"/><circle cx="168.7" cy="183.6" r="4.5" fill="#fba516"/><circle cx="169.5" cy="180.6" r="4.5" fill="#fba516"/><circle cx="171.7" cy="180.7" r="4.5" fill="#fba516"/><circle cx="174.4" cy="179.7" r="4.5" fill="#fba516"/><circle cx="176.6" cy="180.2" r="4.5" fill="#fba516"/><circle cx="178.0" cy="178.5" r="4.5" fill="#fba516"/><circle cx="180.9" cy="178.1" r="4.5" fill="#fba516"/><circle cx="182.3" cy="177.2" r="4.5" fill="#fba516"/><circle cx="182.8" cy="177.5" r="4.5" fill="#fba516"/><circle cx="184.6" cy="177.1" r="4.5" fill="#fba516"/><circle cx="186.7" cy="174.7" r="4.5" fill="#fba516"/><circle cx="187.8" cy="174.4" r="4.5" fill="#fba516"/><circle cx="190.3" cy="174.7" r="4.5" fill="#fba516"/><circle cx="191.0" cy="172.7" r="4.5" fill="#fba516"/><circle cx="192.8" cy="173.0" r="4.5" fill="#fba516"/><circle cx="194.3" cy="170.3" r="4.5" fill="#fba516"/><circle cx="195.8" cy="170.1" r="4.5" fill="#fba516"/><circle cx="199.1" cy="170.2" r="4.5" fill="#fba516"/><circle cx="200.5" cy="169.5" r="4.5" fill="#fba516"/><circle cx="202.5" cy="167.3" r="4.5" fill="#fba516"/><circle cx="202.7" cy="167.7" r="4.5" fill="#fba516"/><circle cx="205.5" cy="165.1" r="4.5" fill="#fba516"/><circle cx="207.0" cy="164.9" r="4.5" fill="#fba516"/><circle cx="208.1" cy="164.0" r="4.5" fill="#fba516"/><circle cx="209.3" cy="162.5" r="4.5" fill="#fba516"/><circle cx="211.2" cy="162.3" r="4.5" fill="#fba516"/><circle cx="214.2" cy="161.0" r="4.5" fill="#fba516"/><circle cx="215.9" cy="160.3" r="4.5" fill="#fba516"/><circle cx="216.4" cy="160.7" r="4.5" fill="#fba516"/><circle cx="219.0" cy="159.0" r="4.5" fill="#fba516"/><circle cx="219.1" cy="158.2" r="4.5" fill="#fba516"/><circle cx="221.4" cy="158.3" r="4.5" fill="#fba516"/><circle cx="222.7" cy="156.4" r="4.5" fill="#fba516"/><circle cx="225.8" cy="154.9" r="4.5" fill="#fba516"/><circle cx="226.5" cy="155.6" r="4.5" fill="#fba516"/><circle cx="228.9" cy="153.2" r="4.5" fill="#fba516"/><circle cx="229.1" cy="152.4" r="4.5" fill="#fba516"/><circle cx="232.5" cy="151.9" r="4.5" fill="#fba516"/><circle cx="233.8" cy="152.3" r="4.5" fill="#fba516"/><circle cx="234.7" cy="150.2" r="4.5" fill="#fba516"/><circle cx="237.6" cy="150.0" r="4.5" fill="#fba516"/><circle cx="237.9" cy="149.3" r="4.5" fill="#fba516"/><circle cx="239.6" cy="147.6" r="4.5" fill="#fba516"/><circle cx="240.5" cy="147.4" r="4.5" fill="#fba516"/><circle cx="243.8" cy="146.0" r="4.5" fill="#fba516"/><circle cx="245.4" cy="143.7" r="4.5" fill="#fba516"/><circle cx="245.5" cy="143.5" r="4.5" fill="#fba516"/><circle cx="247.9" cy="142.9" r="4.5" fill="#fba516"/><circle cx="247.8" cy="140.0" r="4.5" fill="#fba516"/><circle cx="248.9" cy="139.0" r="4.5" fill="#fba516"/><circle cx="250.9" cy="136.9" r="4.5" fill="#fba516"/><circle cx="251.6" cy="136.4" r="4.5" fill="#fba516"/><circle cx="252.6" cy="134.8" r="4.5" fill="#fba516"/><circle cx="253.2" cy="132.3" r="4.5" fill="#fba516"/><circle cx="253.6" cy="130.7" r="4.5" fill="#fba516"/><circle cx="255.4" cy="128.3" r="4.5" fill="#fba516"/><circle cx="255.1" cy="127.8" r="4.5" fill="#fba516"/><circle cx="256.1" cy="124.5" r="4.5" fill="#fba516"/><circle cx="256.6" cy="123.6" r="4.5" fill="#fba516"/><circle cx="257.8" cy="122.8" r="4.5" fill="#fba516"/><circle cx="259.5" cy="121.1" r="4.5" fill="#fba516"/><circle cx="258.8" cy="117.6" r="4.5" fill="#fba516"/><circle cx="259.1" cy="116.7" r="4.5" fill="#fba516"/><circle cx="260.9" cy="114.9" r="4.5" fill="#fba516"/><circle cx="262.3" cy="112.3" r="4.3" fill="#fba516"/><circle cx="263.3" cy="105.4" r="4.3" fill="#fba516"/><circle cx="264.5" cy="97.6" r="4.3" fill="#fba516"/><circle cx="266.5" cy="86.5" r="4.3" fill="#fba516"/><circle cx="267.2" cy="70.1" r="4.3" fill="#fba516"/><circle cx="269.3" cy="53.5" r="4.3" fill="#fba516"/><circle cx="268.5" cy="36.0" r="4.3" fill="#fba516"/><circle cx="268.5" cy="28.0" r="4.3" fill="#fba516"/><circle cx="268.2" cy="25.9" r="4.5" fill="#fba516"/><circle cx="269.4" cy="24.2" r="4.5" fill="#fba516"/><circle cx="270.3" cy="22.4" r="4.5" fill="#fba516"/><circle cx="272.2" cy="21.0" r="4.5" fill="#fba516"/><circle cx="274.4" cy="20.8" r="4.5" fill="#fba516"/><circle cx="276.1" cy="21.2" r="4.5" fill="#fba516"/><circle cx="278.3" cy="21.3" r="4.5" fill="#fba516"/><circle cx="279.7" cy="21.7" r="4.5" fill="#fba516"/><circle cx="281.6" cy="21.2" r="4.5" fill="#fba516"/><circle cx="284.1" cy="19.3" r="4.5" fill="#fba516"/><circle cx="285.2" cy="18.4" r="4.5" fill="#fba516"/><circle cx="286.7" cy="15.8" r="4.5" fill="#fba516"/><circle cx="288.4" cy="14.7" r="4.5" fill="#fba516"/><circle cx="290.3" cy="13.0" r="4.5" fill="#fba516"/><circle cx="291.5" cy="12.9" r="4.5" fill="#fba516"/><circle cx="293.7" cy="12.0" r="4.5" fill="#fba516"/><circle cx="294.4" cy="10.3" r="4.5" fill="#fba516"/><circle cx="296.5" cy="9.6" r="4.5" fill="#fba516"/><circle cx="299.6" cy="9.6" r="4.5" fill="#fba516"/><circle cx="301.5" cy="8.8" r="4.5" fill="#fba516"/><circle cx="303.4" cy="8.4" r="4.5" fill="#fba516"/><circle cx="304.7" cy="8.3" r="4.5" fill="#fba516"/><circle cx="307.5" cy="7.2" r="4.5" fill="#fba516"/><circle cx="309.1" cy="7.5" r="4.5" fill="#fba516"/><circle cx="310.7" cy="6.9" r="4.5" fill="#fba516"/><circle cx="312.6" cy="6.4" r="4.5" fill="#fba516"/><circle cx="314.7" cy="6.6" r="4.5" fill="#fba516"/><circle cx="316.9" cy="5.9" r="4.5" fill="#fba516"/><circle cx="317.9" cy="5.8" r="4.5" fill="#fba516"/><circle cx="320.5" cy="5.4" r="4.5" fill="#fba516"/><circle cx="321.8" cy="5.1" r="4.5" fill="#fba516"/><rect x="74.1" y="227.8" width="8.6" height="8.6" fill="#cc3352"/><rect x="75.1" y="227.1" width="8.6" height="8.6" fill="#cc3352"/><rect x="77.6" y="227.7" width="8.6" height="8.6" fill="#cc3352"/><rect x="79.9" y="227.0" width="8.6" height="8.6" fill="#cc3352"/><rect x="81.2" y="227.8" width="8.6" height="8.6" fill="#cc3352"/><rect x="83.6" y="227.2" width="8.6" height="8.6" fill="#cc3352"/><rect x="85.4" y="228.1" width="8.6" height="8.6" fill="#cc3352"/><rect x="87.4" y="227.5" width="8.6" height="8.6" fill="#cc3352"/><rect x="89.5" y="227.1" width="8.6" height="8.6" fill="#cc3352"/><rect x="92.2" y="227.8" width="8.6" height="8.6" fill="#cc3352"/><rect x="93.5" y="226.6" width="8.6" height="8.6" fill="#cc3352"/><rect x="96.0" y="226.5" width="8.6" height="8.6" fill="#cc3352"/><rect x="97.0" y="227.1" width="8.6" height="8.6" fill="#cc3352"/><rect x="99.6" y="226.7" width="8.6" height="8.6" fill="#cc3352"/><rect x="101.6" y="226.4" width="8.6" height="8.6" fill="#cc3352"/><rect x="103.6" y="225.1" width="8.6" height="8.6" fill="#cc3352"/><rect x="105.0" y="225.3" width="8.6" height="8.6" fill="#cc3352"/><rect x="107.9" y="225.3" width="8.6" height="8.6" fill="#cc3352"/><rect x="109.1" y="224.4" width="8.6" height="8.6" fill="#cc3352"/><rect x="111.5" y="223.7" width="8.6" height="8.6" fill="#cc3352"/><rect x="113.2" y="222.9" width="8.6" height="8.6" fill="#cc3352"/><rect x="115.7" y="223.3" width="8.6" height="8.6" fill="#cc3352"/><rect x="117.2" y="222.2" width="8.6" height="8.6" fill="#cc3352"/><rect x="120.1" y="222.5" width="8.6" height="8.6" fill="#cc3352"/><rect x="121.3" y="220.9" width="8.6" height="8.6" fill="#cc3352"/><rect x="124.3" y="221.6" width="8.6" height="8.6" fill="#cc3352"/><rect x="125.7" y="219.9" width="8.6" height="8.6" fill="#cc3352"/><rect x="128.3" y="219.9" width="8.6" height="8.6" fill="#cc3352"/><rect x="130.3" y="219.9" width="8.6" height="8.6" fill="#cc3352"/><rect x="132.2" y="218.8" width="8.6" height="8.6" fill="#cc3352"/><rect x="134.1" y="218.5" width="8.6" height="8.6" fill="#cc3352"/><rect x="135.6" y="219.0" width="8.6" height="8.6" fill="#cc3352"/><rect x="138.2" y="217.8" width="8.6" height="8.6" fill="#cc3352"/><rect x="139.3" y="217.8" width="8.6" height="8.6" fill="#cc3352"/><rect x="141.7" y="217.4" width="8.6" height="8.6" fill="#cc3352"/><rect x="143.2" y="216.9" width="8.6" height="8.6" fill="#cc3352"/><rect x="146.0" y="217.6" width="8.6" height="8.6" fill="#cc3352"/><rect x="147.1" y="216.9" width="8.6" height="8.6" fill="#cc3352"/><rect x="150.1" y="216.0" width="8.6" height="8.6" fill="#cc3352"/><rect x="152.2" y="215.9" width="8.6" height="8.6" fill="#cc3352"/><rect x="153.8" y="216.4" width="8.6" height="8.6" fill="#cc3352"/><rect x="155.9" y="215.8" width="8.6" height="8.6" fill="#cc3352"/><rect x="157.6" y="216.1" width="8.6" height="8.6" fill="#cc3352"/><rect x="159.6" y="216.0" width="8.6" height="8.6" fill="#cc3352"/><rect x="161.6" y="215.5" width="8.6" height="8.6" fill="#cc3352"/><rect x="163.0" y="215.6" width="8.6" height="8.6" fill="#cc3352"/><rect x="165.7" y="214.9" width="8.6" height="8.6" fill="#cc3352"/><rect x="168.1" y="215.5" width="8.6" height="8.6" fill="#cc3352"/><rect x="169.6" y="214.5" width="8.6" height="8.6" fill="#cc3352"/><rect x="171.7" y="214.3" width="8.6" height="8.6" fill="#cc3352"/><rect x="173.2" y="214.6" width="8.6" height="8.6" fill="#cc3352"/><rect x="175.1" y="214.4" width="8.6" height="8.6" fill="#cc3352"/><rect x="177.7" y="213.7" width="8.6" height="8.6" fill="#cc3352"/><rect x="179.9" y="213.5" width="8.6" height="8.6" fill="#cc3352"/><rect x="182.0" y="214.3" width="8.6" height="8.6" fill="#cc3352"/><rect x="183.7" y="213.1" width="8.6" height="8.6" fill="#cc3352"/><rect x="185.7" y="213.3" width="8.6" height="8.6" fill="#cc3352"/><rect x="188.3" y="212.8" width="8.6" height="8.6" fill="#cc3352"/><rect x="190.2" y="213.7" width="8.6" height="8.6" fill="#cc3352"/><rect x="192.0" y="213.2" width="8.6" height="8.6" fill="#cc3352"/><rect x="193.3" y="213.2" width="8.6" height="8.6" fill="#cc3352"/><rect x="195.7" y="212.9" width="8.6" height="8.6" fill="#cc3352"/><rect x="198.3" y="211.6" width="8.6" height="8.6" fill="#cc3352"/><rect x="200.1" y="212.3" width="8.6" height="8.6" fill="#cc3352"/><rect x="201.1" y="211.3" width="8.6" height="8.6" fill="#cc3352"/><rect x="204.1" y="210.7" width="8.6" height="8.6" fill="#cc3352"/><rect x="206.3" y="210.6" width="8.6" height="8.6" fill="#cc3352"/><rect x="208.1" y="210.1" width="8.6" height="8.6" fill="#cc3352"/><rect x="209.7" y="210.9" width="8.6" height="8.6" fill="#cc3352"/><rect x="211.3" y="209.7" width="8.6" height="8.6" fill="#cc3352"/><rect x="213.7" y="209.5" width="8.6" height="8.6" fill="#cc3352"/><rect x="215.1" y="209.1" width="8.6" height="8.6" fill="#cc3352"/><rect x="217.2" y="209.6" width="8.6" height="8.6" fill="#cc3352"/><rect x="220.0" y="208.9" width="8.6" height="8.6" fill="#cc3352"/><rect x="221.2" y="208.2" width="8.6" height="8.6" fill="#cc3352"/><rect x="223.2" y="207.3" width="8.6" height="8.6" fill="#cc3352"/><rect x="225.9" y="206.5" width="8.6" height="8.6" fill="#cc3352"/><rect x="228.2" y="206.2" width="8.6" height="8.6" fill="#cc3352"/><rect x="229.8" y="206.0" width="8.6" height="8.6" fill="#cc3352"/><rect x="231.1" y="205.6" width="8.6" height="8.6" fill="#cc3352"/><rect x="233.9" y="204.2" width="8.6" height="8.6" fill="#cc3352"/><rect x="236.1" y="203.4" width="8.6" height="8.6" fill="#cc3352"/><rect x="238.4" y="202.9" width="8.6" height="8.6" fill="#cc3352"/><rect x="239.5" y="202.3" width="8.6" height="8.6" fill="#cc3352"/><rect x="241.6" y="200.6" width="8.6" height="8.6" fill="#cc3352"/><rect x="244.0" y="199.6" width="8.6" height="8.6" fill="#cc3352"/><rect x="246.1" y="198.7" width="8.6" height="8.6" fill="#cc3352"/><rect x="247.9" y="198.5" width="8.6" height="8.6" fill="#cc3352"/><rect x="249.8" y="196.9" width="8.6" height="8.6" fill="#cc3352"/><rect x="250.8" y="194.8" width="8.6" height="8.6" fill="#cc3352"/><rect x="251.7" y="193.9" width="8.6" height="8.6" fill="#cc3352"/><rect x="253.9" y="193.1" width="8.6" height="8.6" fill="#cc3352"/><rect x="254.6" y="191.6" width="8.6" height="8.6" fill="#cc3352"/><rect x="254.9" y="188.5" width="8.6" height="8.6" fill="#cc3352"/><rect x="256.4" y="186.0" width="8.6" height="8.6" fill="#cc3352"/><rect x="255.9" y="184.7" width="8.6" height="8.6" fill="#cc3352"/><rect x="256.4" y="183.0" width="8.6" height="8.6" fill="#cc3352"/><rect x="256.9" y="181.6" width="8.6" height="8.6" fill="#cc3352"/><rect x="257.8" y="179.3" width="8.6" height="8.6" fill="#cc3352"/><rect x="258.3" y="177.7" width="8.6" height="8.6" fill="#cc3352"/><rect x="258.1" y="176.3" width="8.6" height="8.6" fill="#cc3352"/><rect x="258.7" y="173.2" width="8.6" height="8.6" fill="#cc3352"/><rect x="258.9" y="171.9" width="8.6" height="8.6" fill="#cc3352"/><rect x="260.4" y="170.1" width="8.6" height="8.6" fill="#cc3352"/><rect x="260.1" y="167.4" width="8.6" height="8.6" fill="#cc3352"/><rect x="259.9" y="165.9" width="8.6" height="8.6" fill="#cc3352"/><rect x="261.0" y="163.5" width="8.6" height="8.6" fill="#cc3352"/><rect x="261.3" y="161.6" width="8.6" height="8.6" fill="#cc3352"/><rect x="262.0" y="160.0" width="8.6" height="8.6" fill="#cc3352"/><rect x="261.2" y="158.3" width="8.6" height="8.6" fill="#cc3352"/><rect x="261.1" y="155.7" width="8.6" height="8.6" fill="#cc3352"/><rect x="261.9" y="153.3" width="8.6" height="8.6" fill="#cc3352"/><rect x="261.5" y="152.2" width="8.6" height="8.6" fill="#cc3352"/><rect x="261.5" y="150.1" width="8.6" height="8.6" fill="#cc3352"/><rect x="262.9" y="147.6" width="8.6" height="8.6" fill="#cc3352"/><rect x="262.0" y="146.4" width="8.6" height="8.6" fill="#cc3352"/><rect x="262.5" y="144.6" width="8.6" height="8.6" fill="#cc3352"/><rect x="263.0" y="142.1" width="8.6" height="8.6" fill="#cc3352"/><rect x="262.4" y="140.4" width="8.6" height="8.6" fill="#cc3352"/><rect x="262.1" y="139.4" width="8.6" height="8.6" fill="#cc3352"/><rect x="263.2" y="137.3" width="8.6" height="8.6" fill="#cc3352"/><rect x="262.2" y="135.6" width="8.6" height="8.6" fill="#cc3352"/><rect x="263.3" y="133.2" width="8.6" height="8.6" fill="#cc3352"/><rect x="263.4" y="131.3" width="8.6" height="8.6" fill="#cc3352"/><rect x="262.7" y="128.9" width="8.6" height="8.6" fill="#cc3352"/><rect x="262.8" y="126.9" width="8.6" height="8.6" fill="#cc3352"/><rect x="263.0" y="126.0" width="8.6" height="8.6" fill="#cc3352"/><rect x="263.6" y="124.2" width="8.6" height="8.6" fill="#cc3352"/><rect x="263.7" y="121.4" width="8.6" height="8.6" fill="#cc3352"/><rect x="263.5" y="119.6" width="8.6" height="8.6" fill="#cc3352"/><rect x="263.9" y="117.7" width="8.6" height="8.6" fill="#cc3352"/><rect x="263.3" y="115.9" width="8.6" height="8.6" fill="#cc3352"/><rect x="264.4" y="113.3" width="8.6" height="8.6" fill="#cc3352"/><rect x="264.5" y="111.0" width="8.6" height="8.6" fill="#cc3352"/><rect x="263.9" y="109.3" width="8.6" height="8.6" fill="#cc3352"/><rect x="266.6" y="92.8" width="7.4" height="7.4" fill="#cc3352"/><rect x="269.5" y="71.0" width="7.4" height="7.4" fill="#cc3352"/><rect x="269.5" y="47.8" width="7.4" height="7.4" fill="#cc3352"/><rect x="272.3" y="28.8" width="7.4" height="7.4" fill="#cc3352"/><rect x="272.8" y="21.8" width="7.4" height="7.4" fill="#cc3352"/><rect x="272.3" y="18.5" width="7.8" height="7.8" fill="#cc3352"/><rect x="272.7" y="16.3" width="7.8" height="7.8" fill="#cc3352"/><rect x="273.1" y="14.6" width="7.8" height="7.8" fill="#cc3352"/><rect x="272.8" y="13.5" width="7.8" height="7.8" fill="#cc3352"/><rect x="274.7" y="12.5" width="7.8" height="7.8" fill="#cc3352"/><rect x="276.3" y="12.1" width="7.8" height="7.8" fill="#cc3352"/><rect x="278.1" y="11.9" width="7.8" height="7.8" fill="#cc3352"/><rect x="280.3" y="12.0" width="7.8" height="7.8" fill="#cc3352"/><rect x="282.0" y="11.8" width="7.8" height="7.8" fill="#cc3352"/><rect x="284.2" y="11.4" width="7.8" height="7.8" fill="#cc3352"/><rect x="285.8" y="11.7" width="7.8" height="7.8" fill="#cc3352"/><rect x="287.7" y="12.0" width="7.8" height="7.8" fill="#cc3352"/><rect x="289.7" y="11.0" width="7.8" height="7.8" fill="#cc3352"/><rect x="291.7" y="11.9" width="7.8" height="7.8" fill="#cc3352"/><rect x="293.9" y="11.1" width="7.8" height="7.8" fill="#cc3352"/><rect x="295.6" y="10.9" width="7.8" height="7.8" fill="#cc3352"/><rect x="298.3" y="11.5" width="7.8" height="7.8" fill="#cc3352"/><rect x="300.3" y="11.5" width="7.8" height="7.8" fill="#cc3352"/><rect x="301.7" y="11.3" width="7.8" height="7.8" fill="#cc3352"/><rect x="304.0" y="11.5" width="7.8" height="7.8" fill="#cc3352"/><rect x="306.4" y="11.5" width="7.8" height="7.8" fill="#cc3352"/><rect x="307.7" y="11.5" width="7.8" height="7.8" fill="#cc3352"/><rect x="310.5" y="11.5" width="7.8" height="7.8" fill="#cc3352"/><rect x="311.7" y="10.8" width="7.8" height="7.8" fill="#cc3352"/><rect x="313.7" y="10.6" width="7.8" height="7.8" fill="#cc3352"/><rect x="316.4" y="11.4" width="7.8" height="7.8" fill="#cc3352"/><rect x="318.2" y="11.4" width="7.8" height="7.8" fill="#cc3352"/></g><path d="M80.5 0.4H322V241.3H80.5Z" stroke="#000" stroke-width="1.6" fill="none"/><g stroke="#000" stroke-width="1.6" fill="none"><path d="M442.3 0.4H683.8V241.5H442.3Z"/><path d="M470.9 241.5V237.5M470.9 0.4V4.4"/><path d="M499.4 241.5V233.5M499.4 0.4V8.4"/><path d="M527.9 241.5V237.5M527.9 0.4V4.4"/><path d="M556.3 241.5V233.5M556.3 0.4V8.4"/><path d="M584.8 241.5V237.5M584.8 0.4V4.4"/><path d="M613.2 241.5V233.5M613.2 0.4V8.4"/><path d="M641.6 241.5V237.5M641.6 0.4V4.4"/><path d="M670.1 241.5V233.5M670.1 0.4V8.4"/><path d="M442.3 41H450"/><path d="M442.3 80.4H450"/><path d="M442.3 121.5H450"/><path d="M442.3 161.5H450"/><path d="M442.3 201.5H446.5"/><path d="M683.8 241.5H675.8"/><path d="M683.8 212.8H679.8"/><path d="M683.8 184.1H675.8"/><path d="M683.8 155.4H679.8"/><path d="M683.8 126.7H675.8"/><path d="M683.8 98.0H679.8"/><path d="M683.8 69.4H675.8"/><path d="M683.8 40.7H679.8"/><path d="M683.8 12.0H675.8"/></g><g clip-path="url(#cb)"><path d="M449.2 102.8V131.2" stroke="#3c7dbf" stroke-width="2"/><path d="M458.9 101.0V123.0" stroke="#3c7dbf" stroke-width="2"/><path d="M452.5 126.0V150.0" stroke="#3c7dbf" stroke-width="2"/><path d="M465.0 114.3V139.3" stroke="#3c7dbf" stroke-width="2"/><path d="M470.0 115.0V140.0" stroke="#3c7dbf" stroke-width="2"/><path d="M477.4 127.7V149.7" stroke="#3c7dbf" stroke-width="2"/><path d="M482.7 128.9V156.6" stroke="#3c7dbf" stroke-width="2"/><path d="M499.5 155.6V183.3" stroke="#3c7dbf" stroke-width="2"/><path d="M513.3 167.0V197.0" stroke="#3c7dbf" stroke-width="2"/><path d="M527.5 236.0V241.5" stroke="#3c7dbf" stroke-width="2"/><path d="M541.9 236.0V241.5" stroke="#3c7dbf" stroke-width="2"/><path d="M549.2 236.0V241.5" stroke="#3c7dbf" stroke-width="2"/><path d="M556.4 236.0V241.5" stroke="#3c7dbf" stroke-width="2"/><path d="M563.6 236.0V241.5" stroke="#3c7dbf" stroke-width="2"/><path d="M584.6 236.0V241.5" stroke="#3c7dbf" stroke-width="2"/><path d="M613.0 236.0V241.5" stroke="#3c7dbf" stroke-width="2"/><path d="M448.8 132.3V148.5" stroke="#5ab4a4" stroke-width="2"/><path d="M453.0 144.8V163.7" stroke="#5ab4a4" stroke-width="2"/><path d="M459.8 133.9V154.8" stroke="#5ab4a4" stroke-width="2"/><path d="M464.8 140.9V160.7" stroke="#5ab4a4" stroke-width="2"/><path d="M469.8 141.0V161.0" stroke="#5ab4a4" stroke-width="2"/><path d="M478.7 156.7V177.6" stroke="#5ab4a4" stroke-width="2"/><path d="M481.9 146.0V162.0" stroke="#5ab4a4" stroke-width="2"/><path d="M491.8 157.0V178.7" stroke="#5ab4a4" stroke-width="2"/><path d="M499.8 169.8V191.6" stroke="#5ab4a4" stroke-width="2"/><path d="M513.3 185.0V218.0" stroke="#5ab4a4" stroke-width="2"/><path d="M521.3 183.3V230.0" stroke="#5ab4a4" stroke-width="2"/><path d="M528.9 186.8V240.5" stroke="#5ab4a4" stroke-width="2"/><path d="M534.7 237.0V241.5" stroke="#5ab4a4" stroke-width="2"/><path d="M570.8 237.0V241.5" stroke="#5ab4a4" stroke-width="2"/><path d="M450.0 62.4V74.8" stroke="#fba516" stroke-width="2"/><path d="M453.9 73.0V86.5" stroke="#fba516" stroke-width="2"/><path d="M459.1 71.5V85.5" stroke="#fba516" stroke-width="2"/><path d="M465.1 75.0V88.5" stroke="#fba516" stroke-width="2"/><path d="M470.6 67.0V82.5" stroke="#fba516" stroke-width="2"/><path d="M482.0 66.0V80.5" stroke="#fba516" stroke-width="2"/><path d="M499.4 76.0V89.0" stroke="#fba516" stroke-width="2"/><path d="M513.9 106.0V121.0" stroke="#fba516" stroke-width="2"/><path d="M527.9 94.0V114.0" stroke="#fba516" stroke-width="2"/><path d="M539.7 104.0V119.0" stroke="#fba516" stroke-width="2"/><path d="M542.0 97.3V126.3" stroke="#fba516" stroke-width="2"/><path d="M556.1 147.0V160.0" stroke="#fba516" stroke-width="2"/><path d="M569.9 150.0V162.0" stroke="#fba516" stroke-width="2"/><path d="M584.4 162.5V174.0" stroke="#fba516" stroke-width="2"/><path d="M598.2 172.5V183.5" stroke="#fba516" stroke-width="2"/><path d="M612.9 185.0V195.5" stroke="#fba516" stroke-width="2"/><path d="M620.4 197.5V208.0" stroke="#fba516" stroke-width="2"/><path d="M626.8 213.5V224.0" stroke="#fba516" stroke-width="2"/><path d="M634.5 224.5V241.0" stroke="#fba516" stroke-width="2"/><path d="M641.6 224.5V241.0" stroke="#fba516" stroke-width="2"/><path d="M448.9 37.2V47.9" stroke="#cc3352" stroke-width="2"/><path d="M452.7 30.6V44.6" stroke="#cc3352" stroke-width="2"/><path d="M459.3 24.0V38.0" stroke="#cc3352" stroke-width="2"/><path d="M465.4 38.0V52.0" stroke="#cc3352" stroke-width="2"/><path d="M471.3 24.5V39.7" stroke="#cc3352" stroke-width="2"/><path d="M477.9 29.8V44.6" stroke="#cc3352" stroke-width="2"/><path d="M482.4 25.0V38.0" stroke="#cc3352" stroke-width="2"/><path d="M492.2 22.4V37.2" stroke="#cc3352" stroke-width="2"/><path d="M498.9 26.5V40.5" stroke="#cc3352" stroke-width="2"/><path d="M506.5 11.9V26.7" stroke="#cc3352" stroke-width="2"/><path d="M513.2 36.6V52.4" stroke="#cc3352" stroke-width="2"/><path d="M520.7 35.6V50.0" stroke="#cc3352" stroke-width="2"/><path d="M527.6 23.8V38.2" stroke="#cc3352" stroke-width="2"/><path d="M542.0 27.7V42.2" stroke="#cc3352" stroke-width="2"/><path d="M556.3 35.6V50.5" stroke="#cc3352" stroke-width="2"/><path d="M570.4 45.3V59.3" stroke="#cc3352" stroke-width="2"/><path d="M584.6 60.2V75.0" stroke="#cc3352" stroke-width="2"/><path d="M599.5 104.0V116.0" stroke="#cc3352" stroke-width="2"/><path d="M613.3 142.0V154.0" stroke="#cc3352" stroke-width="2"/><path d="M627.3 185.0V196.0" stroke="#cc3352" stroke-width="2"/><path d="M634.3 209.0V219.5" stroke="#cc3352" stroke-width="2"/><path d="M667.0 227.5V241.0" stroke="#cc3352" stroke-width="2"/><path d="M442.0 147.0 C445.3 147.2 457.0 147.2 462.0 148.0 C467.0 148.8 469.0 150.4 472.0 152.0 C475.0 153.6 477.0 154.8 480.0 157.5 C483.0 160.2 486.7 164.5 490.0 168.5 C493.3 172.5 497.3 178.0 500.0 181.5 C502.7 185.0 504.0 186.8 506.0 189.5 C508.0 192.2 509.7 193.5 512.0 197.5 C514.3 201.5 517.7 208.7 520.0 213.5 C522.3 218.3 524.3 222.9 526.0 226.5 C527.7 230.1 528.6 232.5 530.0 235.0 C531.4 237.5 533.8 240.4 534.5 241.5 L645 241.5" stroke="#b6e1d9" stroke-width="3.6" fill="none" stroke-linejoin="round"/><path d="M442.0 127.0 C445.8 127.0 459.5 127.0 465.0 127.3 C470.5 127.5 472.2 127.6 475.0 128.5 C477.8 129.4 479.8 130.6 482.0 132.5 C484.2 134.4 486.0 137.2 488.0 140.0 C490.0 142.8 492.0 146.2 494.0 149.5 C496.0 152.8 498.2 156.7 500.0 160.0 C501.8 163.3 503.3 166.2 505.0 169.5 C506.7 172.8 508.3 176.2 510.0 180.0 C511.7 183.8 513.6 188.1 515.0 192.0 C516.4 195.9 517.4 199.6 518.5 203.5 C519.6 207.4 520.6 211.4 521.5 215.5 C522.4 219.6 523.2 223.7 524.0 228.0 C524.8 232.3 525.7 239.2 526.0 241.5 L632 241.5" stroke="#c2d9ee" stroke-width="3.6" fill="none" stroke-linejoin="round"/><path d="M442.0 33.0 C448.3 33.0 470.3 33.1 480.0 33.2 C489.7 33.3 494.2 33.4 500.0 33.7 C505.8 34.0 510.0 34.3 515.0 35.0 C520.0 35.7 525.0 36.4 530.0 37.8 C535.0 39.2 540.8 41.5 545.0 43.5 C549.2 45.5 550.8 46.7 555.0 49.5 C559.2 52.3 566.3 57.0 570.0 60.2 C573.7 63.4 574.4 65.2 577.0 68.9 C579.6 72.7 582.7 77.8 585.6 82.7 C588.5 87.6 592.0 93.7 594.3 98.3 C596.6 102.9 597.5 105.5 599.5 110.4 C601.5 115.3 604.1 121.7 606.4 127.8 C608.7 133.9 611.2 140.9 613.3 146.8 C615.4 152.7 617.2 157.8 619.0 163.0 C620.8 168.2 622.4 173.2 624.0 178.0 C625.6 182.8 627.1 187.2 628.5 191.5 C629.9 195.8 631.5 200.1 632.5 204.0 C633.5 207.9 634.1 211.0 634.8 215.0 C635.5 219.0 636.0 223.6 636.5 228.0 C637.0 232.4 637.3 239.2 637.5 241.5 L673 241.5" stroke="#cc3352" stroke-opacity="0.44" stroke-width="3.4" fill="none" stroke-linejoin="round"/><path d="M449.2 116.0L453.5 120.3L449.2 124.6L444.9 120.3Z" fill="#3c7dbf"/><path d="M458.9 107.7L463.2 112.0L458.9 116.3L454.6 112.0Z" fill="#3c7dbf"/><path d="M452.5 134.2L456.8 138.5L452.5 142.8L448.2 138.5Z" fill="#3c7dbf"/><path d="M465.0 122.3L469.3 126.6L465.0 130.9L460.7 126.6Z" fill="#3c7dbf"/><path d="M470.0 123.0L474.3 127.3L470.0 131.6L465.7 127.3Z" fill="#3c7dbf"/><path d="M477.4 132.7L481.7 137.0L477.4 141.3L473.1 137.0Z" fill="#3c7dbf"/><path d="M482.7 133.8L487.0 138.1L482.7 142.4L478.4 138.1Z" fill="#3c7dbf"/><path d="M499.5 163.4L503.8 167.7L499.5 172.0L495.2 167.7Z" fill="#3c7dbf"/><path d="M513.3 175.5L517.6 179.8L513.3 184.1L509.0 179.8Z" fill="#3c7dbf"/><path d="M527.5 237.2L531.8 241.5L527.5 245.8L523.2 241.5Z" fill="#3c7dbf"/><path d="M541.9 237.2L546.2 241.5L541.9 245.8L537.6 241.5Z" fill="#3c7dbf"/><path d="M549.2 237.2L553.5 241.5L549.2 245.8L544.9 241.5Z" fill="#3c7dbf"/><path d="M556.4 237.2L560.7 241.5L556.4 245.8L552.1 241.5Z" fill="#3c7dbf"/><path d="M563.6 237.2L567.9 241.5L563.6 245.8L559.3 241.5Z" fill="#3c7dbf"/><path d="M584.6 237.2L588.9 241.5L584.6 245.8L580.3 241.5Z" fill="#3c7dbf"/><path d="M613.0 237.2L617.3 241.5L613.0 245.8L608.7 241.5Z" fill="#3c7dbf"/><path d="M448.8 135.7L453.0 142.5L444.6 142.5Z" fill="#5ab4a4"/><path d="M453.0 149.4L457.2 156.2L448.8 156.2Z" fill="#5ab4a4"/><path d="M459.8 139.4L464.0 146.2L455.6 146.2Z" fill="#5ab4a4"/><path d="M464.8 147.2L469.0 154.0L460.6 154.0Z" fill="#5ab4a4"/><path d="M469.8 146.9L474.0 153.7L465.6 153.7Z" fill="#5ab4a4"/><path d="M478.7 162.1L482.9 168.8L474.5 168.8Z" fill="#5ab4a4"/><path d="M481.9 148.4L486.1 155.2L477.7 155.2Z" fill="#5ab4a4"/><path d="M491.8 166.2L496.0 173.0L487.6 173.0Z" fill="#5ab4a4"/><path d="M499.8 178.1L504.0 184.8L495.6 184.8Z" fill="#5ab4a4"/><path d="M513.3 197.0L517.5 203.8L509.1 203.8Z" fill="#5ab4a4"/><path d="M521.3 202.2L525.5 209.0L517.1 209.0Z" fill="#5ab4a4"/><path d="M528.9 210.9L533.1 217.7L524.7 217.7Z" fill="#5ab4a4"/><path d="M534.7 237.9L538.9 244.7L530.5 244.7Z" fill="#5ab4a4"/><path d="M570.8 237.9L575.0 244.7L566.6 244.7Z" fill="#5ab4a4"/><circle cx="450.0" cy="68.2" r="3.9" fill="#fba516"/><circle cx="453.9" cy="79.4" r="3.9" fill="#fba516"/><circle cx="459.1" cy="78.8" r="3.9" fill="#fba516"/><circle cx="465.1" cy="81.4" r="3.9" fill="#fba516"/><circle cx="470.6" cy="74.8" r="3.9" fill="#fba516"/><circle cx="482.0" cy="73.2" r="3.9" fill="#fba516"/><circle cx="499.4" cy="82.7" r="3.9" fill="#fba516"/><circle cx="513.9" cy="113.6" r="3.9" fill="#fba516"/><circle cx="527.9" cy="103.8" r="3.9" fill="#fba516"/><circle cx="539.7" cy="111.7" r="3.9" fill="#fba516"/><circle cx="542.0" cy="111.8" r="3.9" fill="#fba516"/><circle cx="556.1" cy="153.5" r="3.9" fill="#fba516"/><circle cx="569.9" cy="156.0" r="3.9" fill="#fba516"/><circle cx="584.4" cy="168.0" r="3.9" fill="#fba516"/><circle cx="598.2" cy="177.8" r="3.9" fill="#fba516"/><circle cx="612.9" cy="190.3" r="3.9" fill="#fba516"/><circle cx="620.4" cy="202.5" r="3.9" fill="#fba516"/><circle cx="626.8" cy="218.6" r="3.9" fill="#fba516"/><path d="M442.0 75.5 C446.7 75.6 463.2 75.6 470.0 76.0 C476.8 76.4 479.3 76.6 483.0 78.0 C486.7 79.4 489.2 82.1 492.0 84.5 C494.8 86.9 497.0 89.8 500.0 92.5 C503.0 95.2 506.4 97.1 510.0 100.5 C513.6 103.9 518.1 109.2 521.8 113.0 C525.5 116.8 528.2 119.7 532.3 123.6 C536.4 127.5 541.8 132.6 546.3 136.5 C550.8 140.4 554.5 143.6 559.0 147.3 C563.5 151.1 569.1 155.4 573.6 159.0 C578.1 162.6 581.8 165.8 586.3 169.1 C590.8 172.4 596.5 175.6 600.8 179.0 C605.1 182.4 609.0 186.2 612.0 189.5 C615.0 192.8 617.0 195.8 619.0 199.0 C621.0 202.2 622.5 205.7 624.0 209.0 C625.5 212.3 626.8 215.7 628.0 219.0 C629.2 222.3 630.5 226.2 631.5 229.0 C632.5 231.8 633.3 234.0 634.0 236.0 C634.7 238.0 635.2 240.2 635.5 241.0" stroke="#fcd9a0" stroke-width="3.8" fill="none" stroke-dasharray="16.5 18" stroke-dashoffset="8.5" stroke-linejoin="round" opacity="0.85"/><rect x="445.3" y="37.7" width="7.2" height="7.2" fill="#cc3352"/><rect x="449.1" y="34.4" width="7.2" height="7.2" fill="#cc3352"/><rect x="455.7" y="27.0" width="7.2" height="7.2" fill="#cc3352"/><rect x="461.8" y="41.0" width="7.2" height="7.2" fill="#cc3352"/><rect x="467.7" y="27.8" width="7.2" height="7.2" fill="#cc3352"/><rect x="474.3" y="32.8" width="7.2" height="7.2" fill="#cc3352"/><rect x="478.8" y="27.8" width="7.2" height="7.2" fill="#cc3352"/><rect x="488.6" y="26.2" width="7.2" height="7.2" fill="#cc3352"/><rect x="495.3" y="29.8" width="7.2" height="7.2" fill="#cc3352"/><rect x="502.9" y="15.6" width="7.2" height="7.2" fill="#cc3352"/><rect x="509.6" y="40.9" width="7.2" height="7.2" fill="#cc3352"/><rect x="517.1" y="38.9" width="7.2" height="7.2" fill="#cc3352"/><rect x="524.0" y="27.1" width="7.2" height="7.2" fill="#cc3352"/><rect x="538.4" y="31.0" width="7.2" height="7.2" fill="#cc3352"/><rect x="552.7" y="39.3" width="7.2" height="7.2" fill="#cc3352"/><rect x="566.8" y="48.3" width="7.2" height="7.2" fill="#cc3352"/><rect x="581.0" y="64.6" width="7.2" height="7.2" fill="#cc3352"/><rect x="595.9" y="106.4" width="7.2" height="7.2" fill="#cc3352"/><rect x="609.7" y="144.4" width="7.2" height="7.2" fill="#cc3352"/><rect x="623.7" y="186.9" width="7.2" height="7.2" fill="#cc3352"/><rect x="630.7" y="210.7" width="7.2" height="7.2" fill="#cc3352"/><rect x="663.4" y="237.4" width="7.2" height="7.2" fill="#cc3352"/><path d="M638 227.5h7v7h-7z" fill="#cc3352"/><path d="M641.6 224.5V241" stroke="#fba516" stroke-width="2"/><path d="M631.5 241.5a3 2.5 0 0 1 6 0zM638.6 241.5a3 2.5 0 0 1 6 0z" fill="#fba516"/><path d="M663 241.5a4 2.8 0 0 1 8 0z" fill="#f5c38a"/></g><g font-family="Liberation Sans, sans-serif" font-size="17.8" fill="#000"><text x="-1" y="13.5" font-weight="bold">a</text><text x="389.3" y="15.9" font-weight="bold">b</text><text x="74.1" y="17.5" text-anchor="end">0.0</text><text x="74.1" y="127.6" text-anchor="end">−0.5</text><text x="74.1" y="237.6" text-anchor="end">−1.0</text><text x="128.3" y="257.8" text-anchor="middle">4</text><text x="224.7" y="257.8" text-anchor="middle">6</text><text x="321" y="257.8" text-anchor="middle">8</text><text x="184.2" y="273.3"><tspan font-style="italic">T</tspan> (K)</text><text transform="translate(34.6 120.6) rotate(-90)" text-anchor="middle" font-size="18">Normalised AC <tspan font-family="Liberation Serif" font-style="italic">χ</tspan> (arb. units)</text><text x="438.5" y="18.4" text-anchor="end">2.0</text><text x="438.5" y="75.8" text-anchor="end">1.5</text><text x="438.5" y="133.4" text-anchor="end">1.0</text><text x="438.5" y="190.8" text-anchor="end">0.5</text><text x="438.5" y="248.4" text-anchor="end">0.0</text><text x="442.5" y="257.8" text-anchor="middle">0</text><text x="499.4" y="257.8" text-anchor="middle">2</text><text x="556.3" y="257.8" text-anchor="middle">4</text><text x="613.2" y="257.8" text-anchor="middle">6</text><text x="670.1" y="257.8" text-anchor="middle">8</text><text x="546.6" y="273.3"><tspan font-style="italic">T</tspan> (K)</text><text transform="translate(404 122) rotate(-90)" text-anchor="middle" font-size="17.7">Normalised σ<tspan font-size="12" dy="4">sc</tspan><tspan dy="-4"> (μs</tspan><tspan font-size="12" dy="-6">-1</tspan><tspan dy="6">)</tspan></text><text x="214.5" y="53.8" font-style="italic">T</text><text x="223.5" y="59.3" font-size="13">C</text><text x="570.7" y="218.1" font-style="italic">T</text><text x="580.6" y="223.1" font-size="12.5">C</text><text x="234.5" y="302.7">0 GPa</text><text x="325.8" y="302.7">0.4 GPa</text><text x="431.8" y="302.7">0.8 GPa</text><text x="543.6" y="302.7">1.2 GPa</text></g><path d="M224.0 290.8L229.6 296.4L224.0 302.0L218.4 296.4Z" fill="#3c7dbf"/><path d="M315.4 290.2L321.2 299.9H309.6Z" fill="#5ab4a4"/><circle cx="421.3" cy="296.5" r="4.8" fill="#fba516"/><rect x="527.9" y="292.6" width="8.8" height="8.8" fill="#cc3352"/><path d="M209.5 44.4L182.1 27.4" stroke="#000" stroke-width="2.3"/><path d="M174.9 22.9L185.2 24.3L180.8 31.5Z" fill="#000"/><path d="M234.7 46.8L258.3 28.2" stroke="#000" stroke-width="2.3"/><path d="M265.0 22.9L260.1 32.1L254.9 25.5Z" fill="#000"/><path d="M568.4 216.8L545.6 228.2" stroke="#000" stroke-width="2.3"/><path d="M538.0 232.0L544.6 224.0L548.4 231.5Z" fill="#000"/><path d="M593.0 216.8L623.2 230.4" stroke="#000" stroke-width="2.3"/><path d="M631.0 233.9L620.6 233.8L624.1 226.2Z" fill="#000"/></svg></body></html>
